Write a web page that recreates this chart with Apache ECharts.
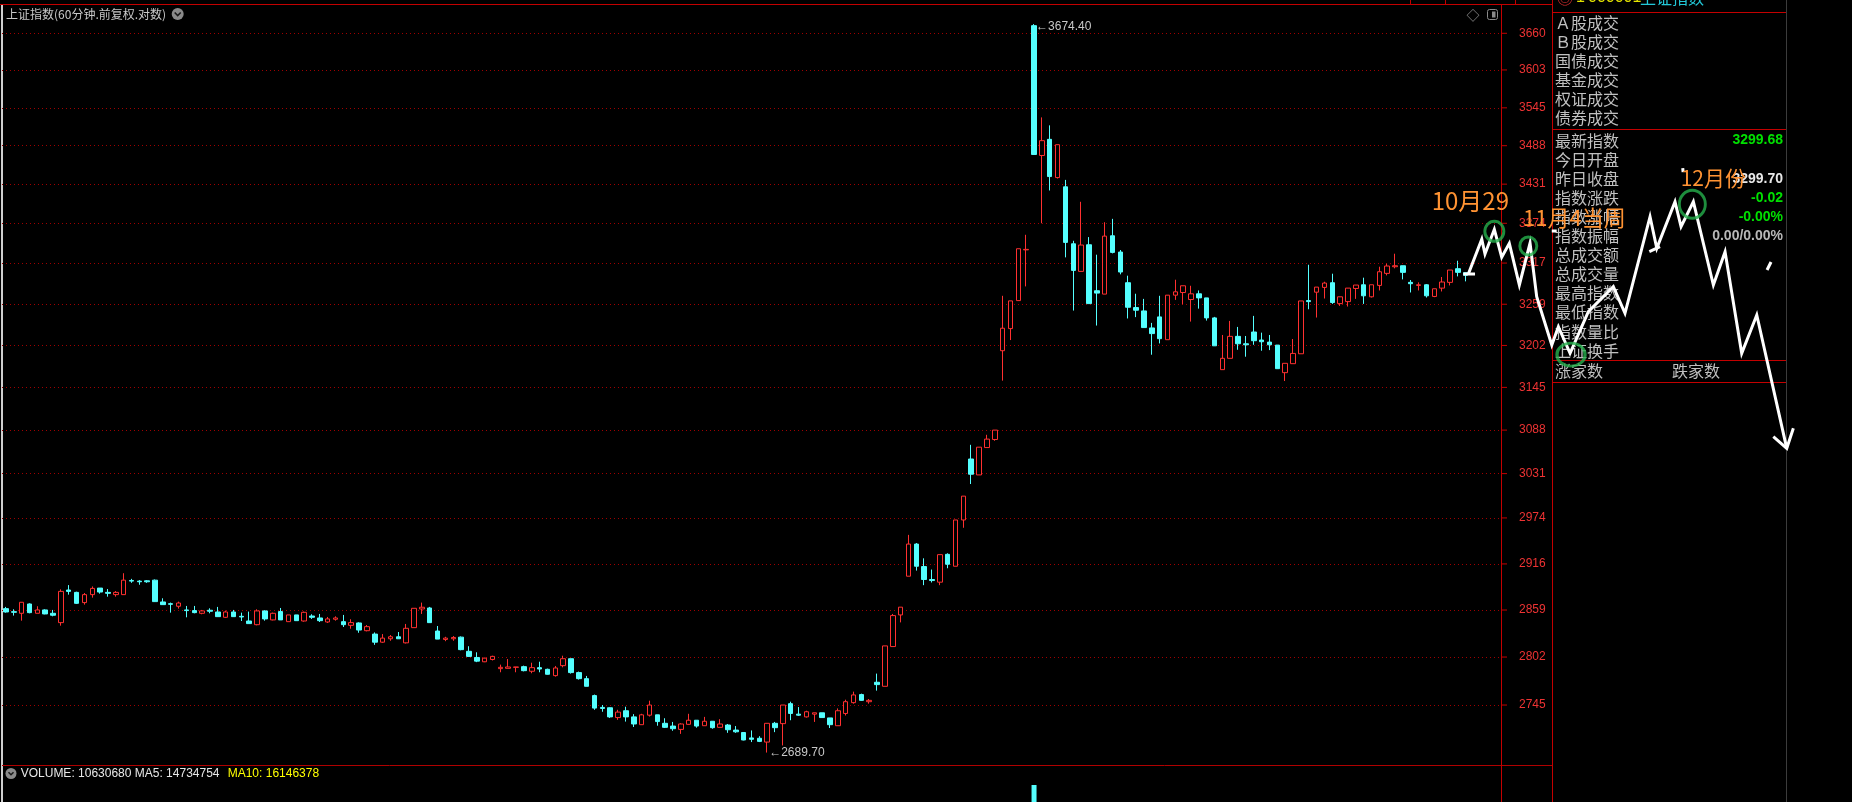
<!DOCTYPE html>
<html><head><meta charset="utf-8">
<script src="https://cdn.jsdelivr.net/npm/echarts@6/dist/echarts.min.js"></script>
<style>html,body{margin:0;padding:0;background:#000;overflow:hidden}#c{width:1852px;height:802px}</style>
</head><body><div id="c"></div>
<script>
// ---------- DATA ----------
const tradingDays = ['08-13','08-14','08-15','08-16','08-19','08-20','08-21','08-22','08-23','08-26','08-27','08-28','08-29','08-30',
 '09-02','09-03','09-04','09-05','09-06','09-09','09-10','09-11','09-12','09-13','09-18','09-19','09-20','09-23','09-24','09-25','09-26','09-27','09-30',
 '10-08','10-09','10-10','10-11','10-14','10-15','10-16','10-17','10-18','10-21','10-22','10-23','10-24','10-25'];
const barTimes = ['10:30','11:30','14:00','15:00'];
const padCats = ['+1','+2','+3','+4'];

const opens = [2860.7,2857.0,2855.0,2866.4,2855.0,2859.1,2855.0,2843.6,2883.6,2880.7,
2868.1,2877.9,2886.0,2880.7,2877.9,2877.9,2895.4,2894.6,2895.0,2895.8,
2868.9,2866.8,2863.6,2859.1,2858.3,2855.0,2858.7,2856.6,2850.1,2856.6,
2851.3,2845.6,2841.1,2857.9,2846.9,2857.1,2844.8,2853.0,2845.6,2851.7,
2849.3,2844.4,2847.7,2844.8,2840.3,2843.2,2833.8,2829.7,2819.9,2824.0,
2826.4,2819.1,2837.5,2860.3,2861.5,2833.4,2823.2,2824.0,2826.0,2808.9,
2801.5,2796.3,2799.1,2788.1,2788.5,2789.7,2790.5,2785.0,2789.3,2787.3,
2779.8,2791.7,2800.0,2783.4,2776.2,2756.1,2742.2,2741.8,2730.3,2738.3,
2731.1,2722.0,2733.1,2733.5,2723.6,2720.4,2716.5,2722.4,2727.2,2720.8,
2726.0,2718.9,2721.6,2715.7,2712.9,2706.6,2706.2,2701.8,2723.6,2723.2,
2746.6,2734.3,2731.1,2734.3,2735.9,2729.9,2720.8,2735.1,2747.8,2757.3,
2748.9,2771.9,2767.1,2814.6,2853.0,2900.7,2940.9,2912.7,2896.6,2893.3,
2928.0,2913.1,2971.4,3050.0,3029.3,3065.0,3075.6,3194.8,3225.2,3264.1,
3335.8,3672.0,3473.4,3497.5,3440.7,3427.1,3344.5,3305.2,3343.1,3277.9,
3273.2,3356.0,3332.7,3289.2,3254.4,3249.7,3226.1,3241.4,3209.9,3271.7,
3275.4,3265.6,3273.6,3267.9,3240.0,3169.0,3184.4,3214.5,3204.3,3220.5,
3209.4,3206.6,3202.5,3164.9,3177.1,3190.6,3264.1,3275.9,3282.6,3289.2,
3259.9,3262.7,3281.1,3286.3,3269.4,3285.4,3302.4,3311.8,3313.2,3289.7,
3285.4,3286.3,3269.9,3281.6,3289.7,3309.0,3303.3];
const closes = [2856.6,2856.2,2868.5,2855.8,2859.1,2854.2,2852.6,2881.9,2881.9,2867.2,
2877.9,2885.6,2881.1,2879.5,2880.7,2895.8,2894.6,2893.8,2893.8,2869.3,
2865.6,2866.0,2867.6,2858.3,2855.8,2857.9,2857.5,2850.9,2856.6,2850.9,
2850.5,2842.4,2857.9,2848.1,2855.0,2846.9,2853.0,2846.0,2856.2,2850.1,
2846.0,2848.1,2849.3,2841.1,2843.6,2834.6,2838.7,2819.9,2824.8,2826.4,
2824.0,2836.7,2861.1,2862.4,2843.6,2823.6,2824.8,2825.6,2810.9,2802.8,
2797.1,2800.7,2802.8,2789.7,2790.1,2790.1,2785.7,2789.3,2787.7,2781.4,
2788.9,2800.0,2783.4,2776.2,2767.1,2741.4,2741.0,2731.1,2736.7,2731.1,
2722.8,2733.5,2745.0,2725.6,2718.9,2717.3,2722.8,2727.2,2720.4,2726.0,
2718.5,2722.8,2716.1,2713.7,2704.2,2705.0,2702.6,2723.6,2718.5,2745.0,
2735.1,2733.1,2737.1,2735.9,2730.3,2722.0,2738.3,2748.9,2756.9,2750.5,
2750.5,2769.1,2815.4,2852.2,2862.5,2940.9,2913.1,2896.6,2895.3,2927.6,
2915.6,2971.4,3001.9,3030.2,3065.5,3076.1,3088.0,3225.7,3263.7,3337.4,
3336.5,3474.9,3495.5,3442.2,3489.5,3346.5,3306.6,3342.7,3259.9,3274.6,
3355.5,3332.2,3304.3,3254.8,3250.7,3226.6,3218.3,3211.3,3271.7,3276.4,
3284.9,3273.6,3267.9,3240.0,3201.5,3184.4,3214.5,3204.3,3202.9,3208.5,
3207.1,3202.9,3170.3,3177.6,3191.1,3263.6,3262.7,3283.0,3288.7,3261.4,
3269.4,3281.6,3285.9,3270.8,3286.3,3304.7,3312.8,3313.2,3303.8,3287.8,
3286.3,3270.8,3280.7,3290.2,3307.1,3303.8,3299.7];
const lows = [2855.8,2852.2,2846.0,2855.0,2855.0,2853.8,2851.3,2839.9,2877.9,2866.4,
2865.6,2874.2,2879.1,2875.4,2875.4,2877.9,2892.5,2890.1,2892.5,2868.9,
2865.6,2855.8,2860.7,2850.1,2855.0,2853.8,2855.0,2850.9,2849.3,2850.5,
2845.6,2842.4,2840.3,2846.0,2846.4,2846.9,2844.8,2846.0,2844.8,2848.1,
2844.4,2843.2,2846.0,2838.3,2836.2,2831.3,2833.0,2816.7,2819.1,2821.6,
2824.0,2818.3,2837.5,2854.2,2843.2,2823.6,2821.1,2821.6,2810.1,2802.4,
2795.9,2795.9,2797.9,2783.8,2788.5,2783.8,2784.9,2782.6,2783.8,2781.0,
2778.6,2789.7,2782.2,2775.1,2767.1,2739.4,2737.1,2729.9,2727.6,2725.6,
2719.3,2722.0,2731.5,2720.8,2718.1,2714.9,2711.3,2722.0,2718.5,2720.8,
2717.3,2718.9,2712.5,2712.5,2703.8,2701.8,2701.8,2689.7,2713.3,2697.9,
2727.2,2732.3,2730.3,2725.2,2730.3,2718.1,2720.8,2732.7,2746.6,2750.1,
2746.6,2762.0,2767.1,2814.6,2843.9,2900.7,2907.7,2889.6,2892.9,2889.6,
2910.6,2913.1,2961.5,3017.5,3029.3,3065.0,3073.9,3154.1,3209.4,3264.1,
3284.0,3474.9,3374.0,3421.7,3439.3,3325.1,3250.2,3305.2,3259.9,3229.4,
3273.2,3330.8,3301.0,3239.2,3241.1,3226.6,3189.3,3204.8,3209.9,3265.1,
3259.0,3234.9,3252.9,3236.3,3201.5,3169.0,3184.4,3196.1,3186.6,3202.9,
3194.8,3195.6,3170.3,3153.6,3177.1,3190.6,3252.0,3240.5,3267.0,3259.5,
3256.7,3255.8,3266.5,3259.5,3268.4,3278.3,3299.5,3309.5,3293.9,3275.5,
3278.3,3268.4,3268.9,3276.9,3285.4,3298.1,3291.1];
const highs = [2862.8,2859.9,2868.5,2867.2,2863.6,2859.9,2859.1,2884.4,2889.7,2881.5,
2879.9,2888.0,2886.0,2884.8,2882.3,2904.4,2897.4,2895.8,2895.8,2896.6,
2873.4,2868.1,2869.3,2864.0,2864.0,2859.1,2861.1,2862.8,2858.3,2859.1,
2855.8,2857.1,2859.9,2858.7,2855.8,2861.5,2853.0,2853.0,2857.1,2853.8,
2854.2,2850.5,2851.3,2853.0,2847.7,2844.0,2840.7,2831.7,2829.7,2828.5,
2832.2,2842.0,2861.1,2868.1,2862.8,2839.5,2826.4,2827.3,2826.8,2815.0,
2807.7,2801.1,2803.6,2792.9,2799.6,2790.1,2791.7,2795.2,2796.4,2788.1,
2791.3,2803.6,2800.0,2784.6,2779.4,2757.3,2745.0,2742.2,2739.4,2743.0,
2734.3,2734.7,2750.1,2733.5,2729.5,2725.2,2723.6,2734.7,2727.2,2731.1,
2726.0,2728.4,2722.8,2720.4,2713.3,2715.3,2708.6,2723.6,2725.2,2745.0,
2748.9,2742.6,2738.3,2735.9,2735.9,2729.9,2741.0,2751.3,2760.8,2758.4,
2752.1,2782.2,2815.4,2854.2,2862.5,2952.5,2942.2,2923.0,2909.0,2927.6,
2929.3,2971.4,3001.9,3068.6,3065.5,3081.8,3088.0,3270.8,3263.7,3337.4,
3357.4,3674.4,3530.5,3518.5,3489.5,3437.3,3348.8,3405.2,3354.1,3328.9,
3375.5,3380.4,3335.6,3299.1,3273.7,3266.5,3233.1,3270.8,3271.7,3293.4,
3284.9,3284.9,3278.3,3267.9,3241.4,3216.4,3235.8,3227.5,3215.0,3242.8,
3219.6,3216.4,3202.5,3177.6,3210.8,3263.6,3314.6,3283.0,3290.6,3301.9,
3269.4,3281.6,3285.9,3296.3,3286.3,3311.8,3316.1,3330.3,3313.2,3293.0,
3289.7,3287.3,3280.7,3297.3,3307.1,3320.3,3303.3];

const yTicks = [2745,2802,2859,2916,2974,3031,3088,3145,3202,3259,3317,3374,3431,3488,3545,3603,3660];

// hand-drawn forecast path: [bar position, index level]
const forecastPath = [[186.34,3301.5],[188.05,3351.0],[188.46,3329.9],[189.65,3365.3],[190.59,3325.2],[191.56,3345.2],
 [192.84,3286.0],[194.20,3345.6],[195.05,3269.6],[196.97,3202.6],[197.81,3227.8],[199.30,3191.3],[201.63,3248.6],
 [204.81,3283.6],[206.30,3246.4],[209.49,3383.5],[210.35,3338.0],[212.67,3405.3],[213.44,3369.1],[215.01,3405.3],
 [217.56,3286.0],[219.05,3333.2],[221.17,3191.3],[223.09,3244.0],[226.91,3064.0]];
const arrowHead = [[225.20,3079.3],[226.91,3064.0],[227.75,3090.4]];
const extraStrokes = [
 [[185.70,3301.5],[187.19,3301.5]],
 [[196.97,3362.9],[197.60,3362.9]],
 [[209.40,3333.2],[210.76,3340.3]],
 [[224.40,3307.2],[224.91,3318.5]],
 [[213.66,3454.8],[213.70,3448.9]]
];
const circleMarks = [
 {label:'10月29', pos:189.65, level:3362.4},
 {label:'11月4当周', pos:193.98, level:3341.4},
 {label:'', pos:199.42, level:3189.4},
 {label:'12月份', pos:214.88, level:3401.6}
];
const volumeVisible = [[131, 110000000]];
const volumeLabel = 'VOLUME: 10630680 MA5: 14734754';
const volumeMa10 = 'MA10: 16146378';

const panelTopRows = ['Ａ股成交','Ｂ股成交','国债成交','基金成交','权证成交','债券成交'];
const panelRows = ['最新指数','今日开盘','昨日收盘','指数涨跌','指数涨幅','指数振幅','总成交额','总成交量','最高指数','最低指数','指数量比','上证换手'];
const panelValues = [{row:0,text:'3299.68',kind:'up'},{row:2,text:'3299.70',kind:'plain'},{row:3,text:'-0.02',kind:'up'},{row:4,text:'-0.00%',kind:'up'},{row:5,text:'0.00/0.00%',kind:'gray'}];

// ---------- STYLE / LAYOUT ----------
const RED='#ff3030', CYAN='#54ffff', FRAME='#c40000', GRIDC='#a00000', ORANGE='#ff9333', GREEN='#25b04c';
const W=1852, H=802, GL=2, GR=351, GT=4, GB=37;
const Y_MIN=2675.4, Y_MAX=3706.2;
const circleStyles = [
 {size:[19,20], offset:[-24,-30], fs:24},
 {size:[17,18], offset:[46,-28], fs:22},
 {size:[28,23], offset:[0,0], fs:20},
 {size:[26,28], offset:[21,-26], fs:21}
];
const CJK='"Noto Sans CJK SC"', LAT='"Liberation Sans"';

const cats=[];
tradingDays.forEach((d,k)=>barTimes.forEach((t,j)=>{ if(k===0&&j===0) return; cats.push('2024-'+d+' '+t); }));
const allCats = cats.concat(padCats);
const band = (W-GL-GR)/allCats.length;
const overlayXMax = -0.5 + (W-GL)/band;
const ohlc = opens.map((o,i)=>[o, closes[i], lows[i], highs[i]]);

const chart = echarts.init(document.getElementById('c'), null, {width:W, height:H});

const g = [];
function L(x1,y1,x2,y2,c,w){ g.push({type:'line',z:1,silent:true,shape:{x1,y1,x2,y2},style:{stroke:c,lineWidth:w||1}}); }
function T(x,y,text,fill,font,align){ g.push({type:'text',z:3,silent:true,x,y,style:{text,fill,font,align:align||'left',verticalAlign:'middle'}}); }
// frame
L(0,4.5,1552,4.5,FRAME);
g.push({type:'rect',z:1,silent:true,shape:{x:1,y:5,width:2,height:797},style:{fill:'#cfcfcf'}});
L(2,765.5,1552,765.5,'#b00000');
L(1501.5,4,1501.5,802,FRAME);
L(1552.5,0,1552.5,802,FRAME);
[12.5,129.5,360.5,382.5].forEach(y=>L(1552,y,1786,y,FRAME));
L(1786.5,0,1786.5,802,'#3c3c3c');
[1410.5,1445.5,1515.5].forEach(x=>L(x,0,x,4,FRAME));
// title
T(6,14.5,'上证指数(60分钟.前复权.对数)','#c8c8c8','12px '+CJK);
g.push({type:'circle',z:3,silent:true,shape:{cx:177.7,cy:14,r:6},style:{fill:'#8a8a8a'}});
g.push({type:'polyline',z:4,silent:true,shape:{points:[[174.7,12.5],[177.7,15.5],[180.7,12.5]]},style:{stroke:'#1a1a1a',lineWidth:1.6,fill:null}});
T(1473,15,'◇','#909090','13px '+CJK,'center');
g.push({type:'rect',z:3,silent:true,shape:{x:1487.5,y:9.5,width:10,height:10,r:2},style:{stroke:'#8a8a8a',fill:null,lineWidth:1}});
g.push({type:'rect',z:3,silent:true,shape:{x:1492,y:11.5,width:3.5,height:6},style:{fill:'#8a8a8a'}});
// volume row
g.push({type:'circle',z:3,silent:true,shape:{cx:11,cy:773.5,r:5.5},style:{fill:'#8a8a8a'}});
g.push({type:'polyline',z:4,silent:true,shape:{points:[[8.5,772.3],[11,774.8],[13.5,772.3]]},style:{stroke:'#1a1a1a',lineWidth:1.5,fill:null}});
T(20.7,773.5,volumeLabel,'#e8e8e8','12px '+LAT);
T(227.7,773.5,volumeMa10,'#ffff00','12px '+LAT);
// right panel header (clipped)
T(1557,-2,'◎','#e03030','16px '+CJK);
T(1576,-2,'1','#e0e000','16px '+LAT);
T(1588,-2,'000001','#e6e600','16px '+LAT);
T(1640,-2,'上证指数','#22c8d8','16px '+CJK);
panelTopRows.forEach((s,k)=>T(1555,23.3+19*k,s,'#c0c0c0','16px '+CJK));
panelRows.forEach((s,k)=>T(1555,140.5+19.1*k,s,'#c0c0c0','16px '+CJK));
T(1555,371,'涨家数','#c0c0c0','16px '+CJK);
T(1672,371,'跌家数','#c0c0c0','16px '+CJK);
const kindColor={up:'#00e000',plain:'#e8e8e8',gray:'#b8b8b8'};
panelValues.forEach(v=>T(1783,140.5+19.1*v.row,v.text,kindColor[v.kind],'bold 14px '+LAT,'right'));

const option = {
  backgroundColor:'#000',
  animation:false,
  grid:[
    {left:GL,right:GR,top:GT,bottom:GB},
    {left:GL,right:0,top:GT,bottom:GB},
    {left:GL,right:GR,top:766,bottom:0}
  ],
  xAxis:[
    {type:'category',data:allCats,gridIndex:0,boundaryGap:true,show:false},
    {type:'value',gridIndex:1,min:-0.5,max:overlayXMax,show:false},
    {type:'category',data:allCats,gridIndex:2,boundaryGap:true,show:false}
  ],
  yAxis:[
    {type:'log',gridIndex:0,min:Y_MIN,max:Y_MAX,show:false},
    {type:'log',gridIndex:1,min:Y_MIN,max:Y_MAX,show:false},
    {type:'value',gridIndex:2,min:98670000,max:122670000,show:false}
  ],
  graphic:{elements:g},
  series:[
    {
      type:'candlestick',xAxisIndex:0,yAxisIndex:0,data:ohlc,barWidth:5,z:5,
      itemStyle:{color:'#000',color0:CYAN,borderColor:RED,borderColor0:CYAN,borderWidth:1},
      markLine:{
        silent:true,symbol:['none','none'],z:2,
        lineStyle:{color:GRIDC,type:[1,3],width:1},
        label:{position:'end',distance:0,
          formatter:p=>'{t|}{v|'+p.name+'}',
          rich:{t:{width:6,height:1,backgroundColor:FRAME},
                v:{color:'#ee3333',fontSize:12,fontFamily:'Liberation Sans',padding:[0,0,0,12]}}},
        data:yTicks.map(v=>({yAxis:v,name:String(v)}))
      },
      markPoint:{
        silent:true,symbol:'circle',symbolSize:0,
        label:{show:true,position:'right',distance:2,color:'#c8c8c8',fontSize:12,fontFamily:'Liberation Sans',
          formatter:p=>'←'+Number(p.value).toFixed(2)},
        data:[{type:'max',valueDim:'highest',label:{offset:[0,3]}},{type:'min',valueDim:'lowest'}]
      }
    },
    {type:'bar',xAxisIndex:2,yAxisIndex:2,data:volumeVisible,barWidth:5,itemStyle:{color:CYAN}},
    {type:'line',xAxisIndex:1,yAxisIndex:1,data:forecastPath,symbol:'none',silent:true,z:10,
      lineStyle:{color:'#fff',width:3,join:'miter'}},
    {type:'line',xAxisIndex:1,yAxisIndex:1,data:arrowHead,symbol:'none',silent:true,z:10,
      lineStyle:{color:'#fff',width:3,join:'miter'}}
  ].concat(extraStrokes.map(s=>({type:'line',xAxisIndex:1,yAxisIndex:1,data:s,symbol:'none',silent:true,z:10,
      lineStyle:{color:'#fff',width:3}}))).concat([
    {type:'scatter',xAxisIndex:1,yAxisIndex:1,z:12,silent:true,
      data:circleMarks.map((c,i)=>({name:c.label,value:[c.pos,c.level],symbolSize:circleStyles[i].size,
        label:{show:!!c.label,position:'inside',offset:circleStyles[i].offset,fontSize:circleStyles[i].fs}})),
      symbol:'circle',
      itemStyle:{color:'rgba(0,0,0,0)',borderColor:GREEN,borderWidth:3},
      label:{formatter:'{b}',color:ORANGE,fontFamily:'Noto Sans CJK SC',textBorderWidth:0,textShadowBlur:0,opacity:1}}
  ])
};
chart.setOption(option);
</script>
</body></html>
